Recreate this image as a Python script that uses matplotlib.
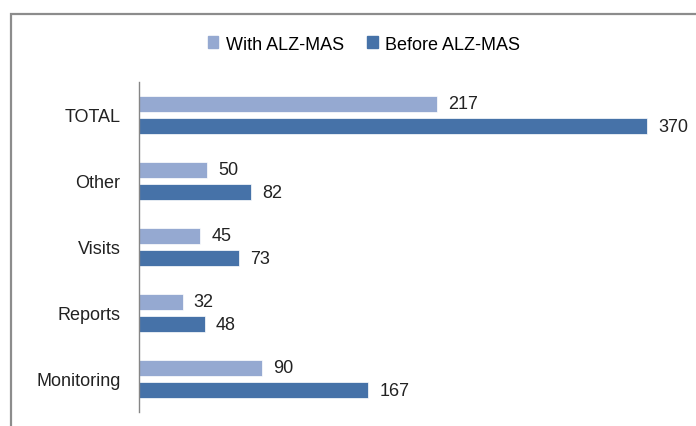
import matplotlib.pyplot as plt
from matplotlib.patches import Rectangle, Patch
import numpy as np

# datos (de abajo hacia arriba)
categories = ["Monitoring", "Reports", "Visits", "Other", "TOTAL"]
with_alz = [90, 32, 45, 50, 217]
before_alz = [167, 48, 73, 82, 370]
series_names = ["With ALZ-MAS", "Before ALZ-MAS"]

light = "#95A9D1"
dark = "#4672A8"
plt.rcParams["font.family"] = ["Liberation Sans", "DejaVu Sans"]

fig = plt.figure(figsize=(6.96, 4.27), dpi=100)
ax = fig.add_axes([138.5 / 696, 1 - 413 / 427, 550 / 696, 330 / 427])

y = np.arange(len(categories))
h = 0.253
off = 0.167
b1 = ax.barh(y + off, with_alz, height=h, color=light, edgecolor="white", linewidth=0.5)
b2 = ax.barh(y - off, before_alz, height=h, color=dark, edgecolor="white", linewidth=0.5)

for bars, vals in ((b1, with_alz), (b2, before_alz)):
    for bar, v in zip(bars, vals):
        ax.annotate(str(v), (v, bar.get_y() + bar.get_height() / 2),
                    xytext=(8, 0), textcoords="offset points",
                    ha="left", va="center", fontsize=13, color="#222222")

ax.set_xlim(0, 400)
ax.set_ylim(-0.5, 4.5)
ax.set_yticks(y)
ax.set_yticklabels(categories, fontsize=13, color="#222222")
ax.tick_params(axis="y", length=0, pad=13)
ax.set_xticks([])
for s in ["top", "right", "bottom"]:
    ax.spines[s].set_visible(False)
ax.spines["left"].set_color("#868686")
ax.spines["left"].set_linewidth(1)

# marco gris del grafico
fig.patches.append(Rectangle((11 / 696, -0.2), 1.2, 1 - 15 / 427 + 0.2,
                             transform=fig.transFigure, fill=False,
                             edgecolor="#8c8c8c", linewidth=1.6, clip_on=False))

handles = [Patch(color=light), Patch(color=dark)]
fig.legend(handles, series_names, loc="center", bbox_to_anchor=(364 / 696, 1 - 45 / 427),
           ncol=2, frameon=False, fontsize=13, handlelength=0.6, handleheight=0.6,
           handletextpad=0.4, columnspacing=1.3)

fig.savefig("out.png", dpi=100)
